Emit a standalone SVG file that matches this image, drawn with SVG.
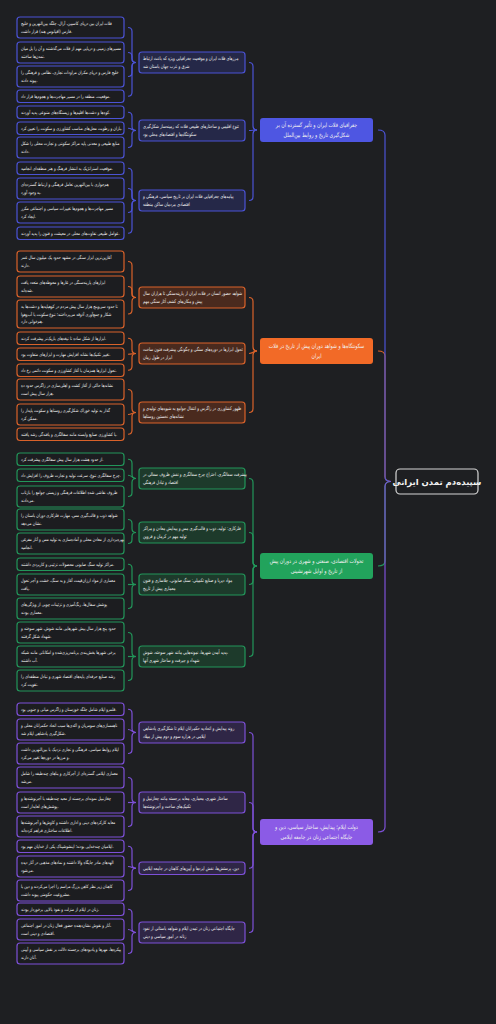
<svg xmlns="http://www.w3.org/2000/svg" width="496" height="1024" viewBox="0 0 496 1024">
<style>
text{font-family:"DejaVu Sans","Noto Sans",sans-serif;fill:#f2f2f2}
.t4{font-size:4.6px;transform:scaleX(.8);transform-origin:21px 0}
.t5{font-size:4.9px;transform:scaleX(.76);transform-origin:143px 0}
.t6{font-size:6px;text-anchor:middle;transform:scaleX(.78);transform-origin:316.5px 0}
.tr{font-size:8.5px;font-weight:bold;text-anchor:middle}
.lf{fill:#1c1d20;stroke-width:1.2}
.l2{stroke-width:1.2}
.c path{fill:none;stroke-width:1.2}
.B{stroke:#4b53d6}.O{stroke:#d9622a}.G{stroke:#22965a}.P{stroke:#7d50d8}
.l2.B{fill:#252848}.l2.O{fill:#4a2a1e}.l2.G{fill:#1d3a2b}.l2.P{fill:#2f2646}
</style>
<rect width="496" height="1024" fill="#1e1f22"/>
<g id="connectors" class="c">
<g class="B">
<path d="M128,27.5 Q132,27.5 132,31.5 V58.5 Q132,62.5 136,62.5"/>
<path d="M128,52.5 Q132,52.5 132,56.5 V58.5 Q132,62.5 136,62.5"/>
<path d="M128,76.5 Q132,76.5 132,72.5 V66.5 Q132,62.5 136,62.5"/>
<path d="M128,96.25 Q132,96.25 132,92.25 V66.5 Q132,62.5 136,62.5"/>
<path d="M128,112.25 Q132,112.25 132,116.25 V126.5 Q132,130.5 136,130.5"/>
<path d="M128,128.25 C132,128.25 132,130.5 136,130.5"/>
<path d="M128,147.5 Q132,147.5 132,143.5 V134.5 Q132,130.5 136,130.5"/>
<path d="M128,168.25 Q132,168.25 132,172.25 V196.5 Q132,200.5 136,200.5"/>
<path d="M128,188.5 Q132,188.5 132,192.5 V196.5 Q132,200.5 136,200.5"/>
<path d="M128,212.5 Q132,212.5 132,208.5 V204.5 Q132,200.5 136,200.5"/>
<path d="M128,233.25 Q132,233.25 132,229.25 V204.5 Q132,200.5 136,200.5"/>
<path d="M249,62.5 Q253,62.5 253,66.5 V126 Q253,130 257,130"/>
<path d="M249,130.5 C253,130.5 253,130 257,130"/>
<path d="M249,200.5 Q253,200.5 253,196.5 V134 Q253,130 257,130"/>
</g>
<g class="O">
<path d="M128,261.5 Q132,261.5 132,265.5 V293.5 Q132,297.5 136,297.5"/>
<path d="M128,286.5 Q132,286.5 132,290.5 V293.5 Q132,297.5 136,297.5"/>
<path d="M128,314 Q132,314 132,310 V301.5 Q132,297.5 136,297.5"/>
<path d="M128,338.25 Q132,338.25 132,342.25 V349.5 Q132,353.5 136,353.5"/>
<path d="M128,354.25 C132,354.25 132,353.5 136,353.5"/>
<path d="M128,370.25 Q132,370.25 132,366.25 V357.5 Q132,353.5 136,353.5"/>
<path d="M128,389.5 Q132,389.5 132,393.5 V408.5 Q132,412.5 136,412.5"/>
<path d="M128,414.5 C132,414.5 132,412.5 136,412.5"/>
<path d="M128,434.25 Q132,434.25 132,430.25 V416.5 Q132,412.5 136,412.5"/>
<path d="M249,297.5 Q253,297.5 253,301.5 V347 Q253,351 257,351"/>
<path d="M249,353.5 C253,353.5 253,351 257,351"/>
<path d="M249,412.5 Q253,412.5 253,408.5 V355 Q253,351 257,351"/>
</g>
<g class="G">
<path d="M128,459.25 Q132,459.25 132,463.25 V474.5 Q132,478.5 136,478.5"/>
<path d="M128,475.25 C132,475.25 132,478.5 136,478.5"/>
<path d="M128,496.5 Q132,496.5 132,492.5 V482.5 Q132,478.5 136,478.5"/>
<path d="M128,519.5 Q132,519.5 132,523.5 V528.5 Q132,532.5 136,532.5"/>
<path d="M128,543.5 Q132,543.5 132,539.5 V536.5 Q132,532.5 136,532.5"/>
<path d="M128,564.25 Q132,564.25 132,568.25 V580.5 Q132,584.5 136,584.5"/>
<path d="M128,584.5 L136,584.5"/>
<path d="M128,608.5 Q132,608.5 132,604.5 V588.5 Q132,584.5 136,584.5"/>
<path d="M128,632.5 Q132,632.5 132,636.5 V652.5 Q132,656.5 136,656.5"/>
<path d="M128,656.5 L136,656.5"/>
<path d="M128,680.5 Q132,680.5 132,676.5 V660.5 Q132,656.5 136,656.5"/>
<path d="M249,478.5 Q253,478.5 253,482.5 V562 Q253,566 257,566"/>
<path d="M249,532.5 Q253,532.5 253,536.5 V562 Q253,566 257,566"/>
<path d="M249,584.5 Q253,584.5 253,580.5 V570 Q253,566 257,566"/>
<path d="M249,656.5 Q253,656.5 253,652.5 V570 Q253,566 257,566"/>
</g>
<g class="P">
<path d="M128,709.25 Q132,709.25 132,713.25 V728.5 Q132,732.5 136,732.5"/>
<path d="M128,729.5 C132,729.5 132,732.5 136,732.5"/>
<path d="M128,753.5 Q132,753.5 132,749.5 V736.5 Q132,732.5 136,732.5"/>
<path d="M128,777.5 Q132,777.5 132,781.5 V798.5 Q132,802.5 136,802.5"/>
<path d="M128,802.5 L136,802.5"/>
<path d="M128,826.5 Q132,826.5 132,822.5 V806.5 Q132,802.5 136,802.5"/>
<path d="M128,846.25 Q132,846.25 132,850.25 V864.25 Q132,868.25 136,868.25"/>
<path d="M128,866.5 C132,866.5 132,868.25 136,868.25"/>
<path d="M128,890.5 Q132,890.5 132,886.5 V872.25 Q132,868.25 136,868.25"/>
<path d="M128,909.25 Q132,909.25 132,913.25 V928.5 Q132,932.5 136,932.5"/>
<path d="M128,929.5 C132,929.5 132,932.5 136,932.5"/>
<path d="M128,953.5 Q132,953.5 132,949.5 V936.5 Q132,932.5 136,932.5"/>
<path d="M249,732.5 Q253,732.5 253,736.5 V828 Q253,832 257,832"/>
<path d="M249,802.5 Q253,802.5 253,806.5 V828 Q253,832 257,832"/>
<path d="M249,868.25 Q253,868.25 253,864.25 V836 Q253,832 257,832"/>
<path d="M249,932.5 Q253,932.5 253,928.5 V836 Q253,832 257,832"/>
</g>
<path class="O" d="M378,351 Q385,351 385,356 V476.5 Q385,481.5 391,481.5"/>
<path class="B" d="M378,130 Q385,130 385,135 V476.5 Q385,481.5 391,481.5"/>
<path class="G" d="M378,566 Q385,566 385,561 V486.5 Q385,481.5 391,481.5"/>
<path class="P" d="M378,832 Q385,832 385,827 V486.5 Q385,481.5 391,481.5"/>
</g>

<g id="root"><rect x="396" y="469" width="82" height="25" rx="4" fill="#1e1f22" stroke="#d6d6d6" stroke-width="1.2"/><text class="tr" x="437" y="484.5">سپیده‌دم تمدن ایرانی</text></g>

<g id="n1"><rect x="260" y="118" width="113" height="24" rx="3" fill="#4e56e2"/><text class="t6"><tspan x="316.5" y="127.4">جغرافیای فلات ایران و تأثیر گسترده آن بر</tspan><tspan x="316.5" y="136.9">شکل‌گیری تاریخ و روابط بین‌الملل</tspan></text></g>
<g id="n2"><rect x="260" y="338" width="113" height="26" rx="3" fill="#f26a27"/><text class="t6"><tspan x="316.5" y="348.4">سکونتگاه‌ها و شواهد دوران پیش از تاریخ در فلات</tspan><tspan x="316.5" y="357.9">ایران</tspan></text></g>
<g id="n3"><rect x="260" y="553" width="113" height="26" rx="3" fill="#22a35c"/><text class="t6"><tspan x="316.5" y="563.4">تحولات اقتصادی، صنعتی و شهری در دوران پیش</tspan><tspan x="316.5" y="572.9">از تاریخ و اوایل شهرنشینی</tspan></text></g>
<g id="n4"><rect x="260" y="819" width="113" height="26" rx="3" fill="#8b5be6"/><text class="t6"><tspan x="316.5" y="829.4">دولت ایلام؛ پیدایش، ساختار سیاسی، دین و</tspan><tspan x="316.5" y="838.9">جایگاه اجتماعی زنان در جامعه ایلامی</tspan></text></g>

<g id="n1-1"><rect class="l2 B" x="139" y="52" width="106" height="21" rx="3"/><text class="t5"><tspan x="143" y="60.2">مرزهای فلات ایران و موقعیت جغرافیایی ویژه که باعث ارتباط</tspan><tspan x="143" y="68.2">شرق و غرب جهان باستان شد</tspan></text></g>
<g id="n1-2"><rect class="l2 B" x="139" y="120" width="106" height="21" rx="3"/><text class="t5"><tspan x="143" y="128.2">تنوع اقلیمی و ساختارهای طبیعی فلات که زمینه‌ساز شکل‌گیری</tspan><tspan x="143" y="136.2">سکونتگاه‌ها و اقتصادهای محلی بود</tspan></text></g>
<g id="n1-3"><rect class="l2 B" x="139" y="190" width="106" height="21" rx="3"/><text class="t5"><tspan x="143" y="198.2">پیامدهای جغرافیایی فلات ایران بر تاریخ سیاسی، فرهنگی و</tspan><tspan x="143" y="206.2">اقتصادی مردمان ساکن منطقه</tspan></text></g>
<g id="n2-1"><rect class="l2 O" x="139" y="287" width="106" height="21" rx="3"/><text class="t5"><tspan x="143" y="295.2">شواهد حضور انسان در فلات ایران از پارینه‌سنگی تا هزاران سال</tspan><tspan x="143" y="303.2">پیش و مکان‌های کشف آثار سنگی مهم</tspan></text></g>
<g id="n2-2"><rect class="l2 O" x="139" y="343" width="106" height="21" rx="3"/><text class="t5"><tspan x="143" y="351.2">تحول ابزارها در دوره‌های سنگی و چگونگی پیشرفت فنون ساخت</tspan><tspan x="143" y="359.2">ابزار در طول زمان</tspan></text></g>
<g id="n2-3"><rect class="l2 O" x="139" y="402" width="106" height="21" rx="3"/><text class="t5"><tspan x="143" y="410.2">ظهور کشاورزی در زاگرس و انتقال جوامع به شیوه‌های تولیدی و</tspan><tspan x="143" y="418.2">نشانه‌های نخستین روستاها</tspan></text></g>
<g id="n3-1"><rect class="l2 G" x="139" y="468" width="106" height="21" rx="3"/><text class="t5"><tspan x="143" y="476.2">پیشرفت سفالگری، اختراع چرخ سفالگری و نقش ظروف سفالی در</tspan><tspan x="143" y="484.2">اقتصاد و تبادل فرهنگی</tspan></text></g>
<g id="n3-2"><rect class="l2 G" x="139" y="522" width="106" height="21" rx="3"/><text class="t5"><tspan x="143" y="530.2">فلزکاری: تولید، ذوب و قالب‌گیری مس و پیدایش معادن و مراکز</tspan><tspan x="143" y="538.2">تولید مهم در کرمان و قزوین</tspan></text></g>
<g id="n3-3"><rect class="l2 G" x="139" y="574" width="106" height="21" rx="3"/><text class="t5"><tspan x="143" y="582.2">مواد دیرپا و صنایع تکمیلی: سنگ صابونی، جلاسازی و فنون</tspan><tspan x="143" y="590.2">معماری پیش از تاریخ</tspan></text></g>
<g id="n3-4"><rect class="l2 G" x="139" y="646" width="106" height="21" rx="3"/><text class="t5"><tspan x="143" y="654.2">پدید آمدن شهرها، نمونه‌هایی مانند شهر سوخته، شوش،</tspan><tspan x="143" y="662.2">شهداد و جیرفت و ساختار شهری آنها</tspan></text></g>
<g id="n4-1"><rect class="l2 P" x="139" y="722" width="106" height="21" rx="3"/><text class="t5"><tspan x="143" y="730.2">روند پیدایش و اتحادیه حکمرانان ایلام تا شکل‌گیری پادشاهی</tspan><tspan x="143" y="738.2">ایلامی در هزاره سوم و دوم پیش از میلاد</tspan></text></g>
<g id="n4-2"><rect class="l2 P" x="139" y="792" width="106" height="21" rx="3"/><text class="t5"><tspan x="143" y="800.2">ساختار شهری، معماری، معابد برجسته مانند چغازنبیل و</tspan><tspan x="143" y="808.2">تکنیک‌های ساخت و آجرنوشته‌ها</tspan></text></g>
<g id="n4-3"><rect class="l2 P" x="139" y="862" width="106" height="12.5" rx="3"/><text class="t5"><tspan x="143" y="870">دین، پرستش‌ها، نقش ایزدها و آیین‌های کاهنان در جامعه ایلامی</tspan></text></g>
<g id="n4-4"><rect class="l2 P" x="139" y="922" width="106" height="21" rx="3"/><text class="t5"><tspan x="143" y="930.2">جایگاه اجتماعی زنان در تمدن ایلام و شواهد باستانی از نفوذ</tspan><tspan x="143" y="938.2">زنانه در امور سیاسی و دینی</tspan></text></g>

<g id="leaf1-1a"><rect class="lf B" x="17" y="17" width="107" height="21" rx="3"/><text class="t4"><tspan x="21" y="25.3">فلات ایران بین دریای کاسپین، آرال، جلگه بین‌النهرین و خلیج</tspan><tspan x="21" y="32.9">فارس (اقیانوس هند) قرار داشت.</tspan></text></g>
<g id="leaf1-1b"><rect class="lf B" x="17" y="42" width="107" height="21" rx="3"/><text class="t4"><tspan x="21" y="50.3">مسیرهای زمینی و دریایی مهم از فلات می‌گذشتند و آن را پل میان</tspan><tspan x="21" y="57.9">تمدن‌ها ساختند.</tspan></text></g>
<g id="leaf1-1c"><rect class="lf B" x="17" y="66" width="107" height="21" rx="3"/><text class="t4"><tspan x="21" y="74.3">خلیج فارس و دریای مکران مراودات تجاری، نظامی و فرهنگی را</tspan><tspan x="21" y="81.9">پیوند دادند.</tspan></text></g>
<g id="leaf1-1d"><rect class="lf B" x="17" y="90" width="107" height="12.5" rx="3"/><text class="t4"><tspan x="21" y="97.9">موقعیت، منطقه را در مسیر مهاجرت‌ها و هجوم‌ها قرار داد.</tspan></text></g>
<g id="leaf1-2a"><rect class="lf B" x="17" y="106" width="107" height="12.5" rx="3"/><text class="t4"><tspan x="21" y="113.9">کوه‌ها و دشت‌ها اقلیم‌ها و زیستگاه‌های متنوعی پدید آوردند.</tspan></text></g>
<g id="leaf1-2b"><rect class="lf B" x="17" y="122" width="107" height="12.5" rx="3"/><text class="t4"><tspan x="21" y="129.9">باران و رطوبت محل‌های مناسب کشاورزی و سکونت را تعیین کرد.</tspan></text></g>
<g id="leaf1-2c"><rect class="lf B" x="17" y="137" width="107" height="21" rx="3"/><text class="t4"><tspan x="21" y="145.3">منابع طبیعی و معدنی پایه مراکز سکونتی و تجارت محلی را شکل</tspan><tspan x="21" y="152.9">دادند.</tspan></text></g>
<g id="leaf1-3a"><rect class="lf B" x="17" y="162" width="107" height="12.5" rx="3"/><text class="t4"><tspan x="21" y="169.9">موقعیت استراتژیک به انتشار فرهنگ و هنر منطقه‌ای انجامید.</tspan></text></g>
<g id="leaf1-3b"><rect class="lf B" x="17" y="178" width="107" height="21" rx="3"/><text class="t4"><tspan x="21" y="186.3">هم‌جواری با بین‌النهرین تعامل فرهنگی و ارتباط گسترده‌ای</tspan><tspan x="21" y="193.9">به وجود آورد.</tspan></text></g>
<g id="leaf1-3c"><rect class="lf B" x="17" y="202" width="107" height="21" rx="3"/><text class="t4"><tspan x="21" y="210.3">مسیر مهاجرت‌ها و هجوم‌ها تغییرات سیاسی و اجتماعی مکرر</tspan><tspan x="21" y="217.9">ایجاد کرد.</tspan></text></g>
<g id="leaf1-3d"><rect class="lf B" x="17" y="227" width="107" height="12.5" rx="3"/><text class="t4"><tspan x="21" y="234.9">عوامل طبیعی تفاوت‌های محلی در معیشت و فنون را پدید آوردند.</tspan></text></g>

<g id="leaf2-1a"><rect class="lf O" x="17" y="251" width="107" height="21" rx="3"/><text class="t4"><tspan x="21" y="259.3">آغازین‌ترین ابزار سنگی در مشهد حدود یک میلیون سال عمر</tspan><tspan x="21" y="266.9">دارند.</tspan></text></g>
<g id="leaf2-1b"><rect class="lf O" x="17" y="276" width="107" height="21" rx="3"/><text class="t4"><tspan x="21" y="284.3">ابزارهای پارینه‌سنگی در غارها و محوطه‌های متعدد یافت</tspan><tspan x="21" y="291.9">شده‌اند.</tspan></text></g>
<g id="leaf2-1c"><rect class="lf O" x="17" y="300" width="107" height="28" rx="3"/><text class="t4"><tspan x="21" y="308">تا حدود سی‌وپنج هزار سال پیش مردم در کوهپایه‌ها و دشت‌ها به</tspan><tspan x="21" y="315.6">شکار و جمع‌آوری آذوقه می‌پرداختند؛ تنوع سکونت با آب‌وهوا</tspan><tspan x="21" y="323.2">هم‌خوانی دارد.</tspan></text></g>
<g id="leaf2-2a"><rect class="lf O" x="17" y="332" width="107" height="12.5" rx="3"/><text class="t4"><tspan x="21" y="339.9">ابزارها از شکل ساده تا تیغه‌های باریک‌تر پیشرفت کردند.</tspan></text></g>
<g id="leaf2-2b"><rect class="lf O" x="17" y="348" width="107" height="12.5" rx="3"/><text class="t4"><tspan x="21" y="355.9">تغییر تکنیک‌ها نشانه افزایش مهارت و ابزارهای متفاوت بود.</tspan></text></g>
<g id="leaf2-2c"><rect class="lf O" x="17" y="364" width="107" height="12.5" rx="3"/><text class="t4"><tspan x="21" y="371.9">تحول ابزارها همزمان با آغاز کشاورزی و سکونت دائمی رخ داد.</tspan></text></g>
<g id="leaf2-3a"><rect class="lf O" x="17" y="379" width="107" height="21" rx="3"/><text class="t4"><tspan x="21" y="387.3">نشانه‌ها حاکی از آغاز کشت و اهلی‌سازی در زاگرس حدود ده</tspan><tspan x="21" y="394.9">هزار سال پیش است.</tspan></text></g>
<g id="leaf2-3b"><rect class="lf O" x="17" y="404" width="107" height="21" rx="3"/><text class="t4"><tspan x="21" y="412.3">گذار به تولید خوراک شکل‌گیری روستاها و سکونت پایدار را</tspan><tspan x="21" y="419.9">ممکن کرد.</tspan></text></g>
<g id="leaf2-3c"><rect class="lf O" x="17" y="428" width="107" height="12.5" rx="3"/><text class="t4"><tspan x="21" y="435.9">با کشاورزی صنایع وابسته مانند سفالگری و بافندگی رشد یافتند.</tspan></text></g>

<g id="leaf3-1a"><rect class="lf G" x="17" y="453" width="107" height="12.5" rx="3"/><text class="t4"><tspan x="21" y="460.9">از حدود هشت هزار سال پیش سفالگری پیشرفت کرد.</tspan></text></g>
<g id="leaf3-1b"><rect class="lf G" x="17" y="469" width="107" height="12.5" rx="3"/><text class="t4"><tspan x="21" y="476.9">چرخ سفالگری تنوع، سرعت تولید و تجارت ظروف را افزایش داد.</tspan></text></g>
<g id="leaf3-1c"><rect class="lf G" x="17" y="486" width="107" height="21" rx="3"/><text class="t4"><tspan x="21" y="494.3">ظروف نقاشی شده اطلاعات فرهنگی و زیستی جوامع را بازتاب</tspan><tspan x="21" y="501.9">می‌دادند.</tspan></text></g>
<g id="leaf3-2a"><rect class="lf G" x="17" y="509" width="107" height="21" rx="3"/><text class="t4"><tspan x="21" y="517.3">شواهد ذوب و قالب‌گیری مس، مهارت فلزکاری دوران باستان را</tspan><tspan x="21" y="524.9">نشان می‌دهد.</tspan></text></g>
<g id="leaf3-2b"><rect class="lf G" x="17" y="533" width="107" height="21" rx="3"/><text class="t4"><tspan x="21" y="541.3">بهره‌برداری از معادن محلی و آماده‌سازی به تولید مس و آثار مفرغی</tspan><tspan x="21" y="548.9">انجامید.</tspan></text></g>
<g id="leaf3-3a"><rect class="lf G" x="17" y="558" width="107" height="12.5" rx="3"/><text class="t4"><tspan x="21" y="565.9">مراکز تولید سنگ صابونی محصولات تزئینی و کاربردی داشتند.</tspan></text></g>
<g id="leaf3-3b"><rect class="lf G" x="17" y="574" width="107" height="21" rx="3"/><text class="t4"><tspan x="21" y="582.3">معماری از مواد ارزان‌قیمت آغاز و به سنگ، خشت و آجر تحول</tspan><tspan x="21" y="589.9">یافت.</tspan></text></g>
<g id="leaf3-3c"><rect class="lf G" x="17" y="598" width="107" height="21" rx="3"/><text class="t4"><tspan x="21" y="606.3">پوشش سفال‌ها، رنگ‌آمیزی و تزئینات چوبی از ویژگی‌های</tspan><tspan x="21" y="613.9">معماری بودند.</tspan></text></g>
<g id="leaf3-4a"><rect class="lf G" x="17" y="622" width="107" height="21" rx="3"/><text class="t4"><tspan x="21" y="630.3">حدود پنج هزار سال پیش شهرهایی مانند شوش، شهر سوخته و</tspan><tspan x="21" y="637.9">شهداد شکل گرفتند.</tspan></text></g>
<g id="leaf3-4b"><rect class="lf G" x="17" y="646" width="107" height="21" rx="3"/><text class="t4"><tspan x="21" y="654.3">برخی شهرها بخش‌بندی برنامه‌ریزی‌شده و امکاناتی مانند شبکه</tspan><tspan x="21" y="661.9">آب داشتند.</tspan></text></g>
<g id="leaf3-4c"><rect class="lf G" x="17" y="670" width="107" height="21" rx="3"/><text class="t4"><tspan x="21" y="678.3">رشد صنایع حرفه‌ای پایه‌های اقتصاد شهری و تبادل منطقه‌ای را</tspan><tspan x="21" y="685.9">تقویت کرد.</tspan></text></g>

<g id="leaf4-1a"><rect class="lf P" x="17" y="703" width="107" height="12.5" rx="3"/><text class="t4"><tspan x="21" y="710.9">قلمرو ایلام شامل جلگه خوزستان و زاگرس میانی و جنوبی بود.</tspan></text></g>
<g id="leaf4-1b"><rect class="lf P" x="17" y="719" width="107" height="21" rx="3"/><text class="t4"><tspan x="21" y="727.3">ناهمسازی‌های سومریان و اکدی‌ها سبب اتحاد حکمرانان محلی و</tspan><tspan x="21" y="734.9">شکل‌گیری پادشاهی ایلام شد.</tspan></text></g>
<g id="leaf4-1c"><rect class="lf P" x="17" y="743" width="107" height="21" rx="3"/><text class="t4"><tspan x="21" y="751.3">ایلام روابط سیاسی، فرهنگی و تجاری نزدیک با بین‌النهرین داشت</tspan><tspan x="21" y="758.9">و مرزها در دوره‌ها تغییر می‌کرد.</tspan></text></g>
<g id="leaf4-2a"><rect class="lf P" x="17" y="767" width="107" height="21" rx="3"/><text class="t4"><tspan x="21" y="775.3">معماری ایلامی گستره‌ای از آجرکاری و بناهای چندطبقه را شامل</tspan><tspan x="21" y="782.9">می‌شد.</tspan></text></g>
<g id="leaf4-2b"><rect class="lf P" x="17" y="792" width="107" height="21" rx="3"/><text class="t4"><tspan x="21" y="800.3">چغازنبیل نمونه‌ای برجسته از معبد چندطبقه با آجرنوشته‌ها و</tspan><tspan x="21" y="807.9">پوشش‌های لعابدار است.</tspan></text></g>
<g id="leaf4-2c"><rect class="lf P" x="17" y="816" width="107" height="21" rx="3"/><text class="t4"><tspan x="21" y="824.3">معابد کارکردهای دینی و اداری داشتند و کاوش‌ها و آجرنوشته‌ها</tspan><tspan x="21" y="831.9">اطلاعات ساختاری فراهم کرده‌اند.</tspan></text></g>
<g id="leaf4-3a"><rect class="lf P" x="17" y="840" width="107" height="12.5" rx="3"/><text class="t4"><tspan x="21" y="847.9">ایلامیان چندخدایی بودند؛ اینشوشیناک یکی از خدایان مهم بود.</tspan></text></g>
<g id="leaf4-3b"><rect class="lf P" x="17" y="856" width="107" height="21" rx="3"/><text class="t4"><tspan x="21" y="864.3">الهه‌های مادر جایگاه والا داشتند و نمادهای مذهبی در آثار دیده</tspan><tspan x="21" y="871.9">می‌شود.</tspan></text></g>
<g id="leaf4-3c"><rect class="lf P" x="17" y="880" width="107" height="21" rx="3"/><text class="t4"><tspan x="21" y="888.3">کاهنان زیر نظر کاهن بزرگ مراسم را اجرا می‌کردند و دین با</tspan><tspan x="21" y="895.9">مشروعیت حکومتی پیوند داشت.</tspan></text></g>
<g id="leaf4-4a"><rect class="lf P" x="17" y="903" width="107" height="12.5" rx="3"/><text class="t4"><tspan x="21" y="910.9">زنان در ایلام از منزلت و نفوذ بالایی برخوردار بودند.</tspan></text></g>
<g id="leaf4-4b"><rect class="lf P" x="17" y="919" width="107" height="21" rx="3"/><text class="t4"><tspan x="21" y="927.3">آثار و نقوش نشان‌دهنده حضور فعال زنان در امور اجتماعی،</tspan><tspan x="21" y="934.9">اقتصادی و دینی است.</tspan></text></g>
<g id="leaf4-4c"><rect class="lf P" x="17" y="943" width="107" height="21" rx="3"/><text class="t4"><tspan x="21" y="951.3">پیکره‌ها، مهرها و یادبودهای برجسته دلالت بر نقش سیاسی و آیینی</tspan><tspan x="21" y="958.9">آنان دارند.</tspan></text></g>
</svg>
